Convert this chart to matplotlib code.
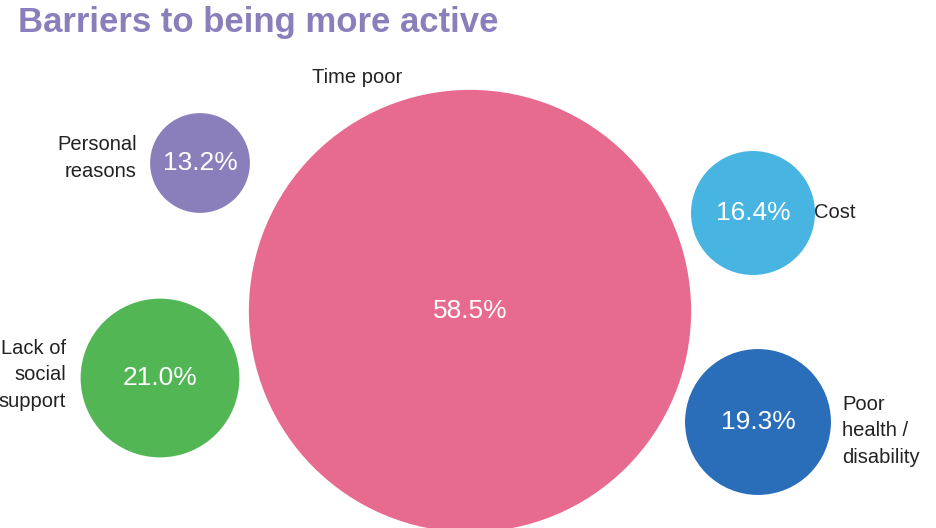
import matplotlib.pyplot as plt
from matplotlib.patches import Circle

plt.rcParams['font.family'] = ['Liberation Sans', 'DejaVu Sans']

categories = ["Time poor", "Personal\nreasons", "Cost", "Lack of\nsocial\nsupport", "Poor\nhealth /\ndisability"]
values = [58.5, 13.2, 16.4, 21.0, 19.3]

# layout (pixel coords, y down)
colors = ["#E76A8F", "#8B7FBB", "#48B4E2", "#52B655", "#2A6DB9"]
centers = [(470, 311), (200, 163), (753, 213), (160, 378), (758, 422)]
scale = 3.78
label_pos = [(357, 77, 'center'), (137, 158, 'right'), (814, 213, 'left'),
             (66, 375, 'right'), (842, 431, 'left')]

fig = plt.figure(figsize=(9.37, 5.28), dpi=100)
ax = fig.add_axes([0, 0, 1, 1])
ax.set_xlim(0, 937)
ax.set_ylim(528, 0)
ax.set_aspect('equal')
ax.axis('off')

for name, v, c, (cx, cy), (lx, ly, ha) in zip(categories, values, colors, centers, label_pos):
    ax.add_patch(Circle((cx, cy), v * scale, color=c, lw=0))
    ax.text(cx, cy, f"{v:.1f}%", color='white', fontsize=19, ha='center', va='center')
    ax.text(lx, ly, name, color='#222222', fontsize=14.5, ha=ha, va='center',
            multialignment=ha, linespacing=1.5)

ax.text(18, 22, "Barriers to being more active", color='#8B7FBB', fontsize=25,
        fontweight='bold', ha='left', va='center')

fig.savefig("out.png", dpi=100)
